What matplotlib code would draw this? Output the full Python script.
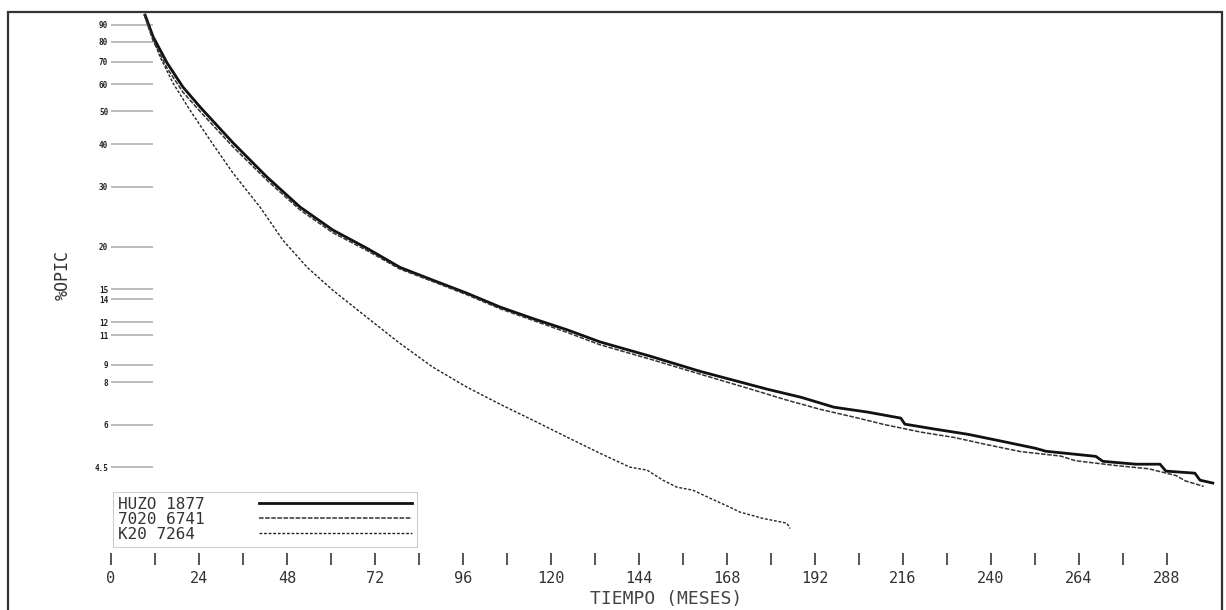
import matplotlib
matplotlib.use("Agg")
import matplotlib.pyplot as plt
from matplotlib.patches import Rectangle

# ---- data (months, % surviving) ----
months_a = [9.3, 11.5, 15.3, 19.6, 24.3, 33.3, 42.5, 51.5, 60.5, 69.8,
            78.8, 87.8, 97.1, 106.1, 115.1, 124.4, 133.4, 147.0, 160.6, 178.9,
            188.2, 197.2, 206.4, 215.4, 216.5, 224.7, 233.7, 243.0, 252.2, 255.0,
            268.6, 270.5, 279.5, 286.1, 287.7, 295.6, 297.0, 300.5]
surv_a = [96.0, 82.8, 69.4, 59.0, 51.5, 40.4, 32.1, 26.2, 22.4, 19.8,
          17.4, 15.95, 14.6, 13.3, 12.3, 11.4, 10.5, 9.54, 8.61, 7.63,
          7.22, 6.75, 6.53, 6.27, 6.02, 5.82, 5.62, 5.36, 5.11, 5.01,
          4.84, 4.68, 4.59, 4.59, 4.38, 4.32, 4.12, 4.04]

months_b = [9.0, 11.5, 15.3, 19.6, 24.3, 33.3, 42.5, 51.5, 60.5, 69.8,
            78.8, 87.8, 97.1, 106.1, 115.1, 124.4, 133.4, 147.0, 160.6, 175.0,
            184.0, 193.5, 203.0, 211.0, 221.0, 230.0, 238.5, 248.0, 259.0, 263.0,
            274.0, 283.0, 290.5, 293.0, 298.0]
surv_b = [96.5, 80.5, 67.0, 57.0, 50.0, 39.3, 31.4, 25.7, 22.0, 19.5,
          17.2, 15.8, 14.45, 13.15, 12.15, 11.2, 10.3, 9.35, 8.45, 7.6,
          7.1, 6.65, 6.3, 6.0, 5.7, 5.5, 5.25, 5.0, 4.85, 4.7,
          4.55, 4.45, 4.25, 4.1, 3.95]

months_c = [9.3, 11.5, 13.4, 16.9, 21.5, 27.0, 33.3, 40.6, 46.9, 53.5,
            60.5, 69.8, 78.8, 87.8, 97.1, 106.1, 115.1, 124.4, 133.4, 141.5,
            146.2, 150.5, 154.3, 158.7, 163.3, 168.8, 171.5, 177.8, 184.3, 185.2]
surv_c = [96.0, 82.2, 72.2, 60.6, 50.5, 41.2, 32.9, 26.2, 20.9, 17.4,
          14.9, 12.4, 10.4, 8.85, 7.73, 6.89, 6.18, 5.51, 4.94, 4.50,
          4.41, 4.12, 3.93, 3.85, 3.65, 3.43, 3.32, 3.18, 3.08, 2.97]

series_labels = ["HUZO 1877", "7020 6741", "K20 7264"]
x_ticks = list(range(0, 289, 24))
x_minor = list(range(12, 300, 24))
y_ticks = [90, 80, 70, 60, 50, 40, 30, 20, 15, 14, 12, 11, 9, 8, 6, 4.5]

plt.rcParams["font.family"] = ["DejaVu Sans Mono", "DejaVu Sans"]

W, H = 1226, 610
fig = plt.figure(figsize=(W / 100, H / 100), dpi=100)
ax = fig.add_axes([111 / W, 45 / H, 1111 / W, 553 / H])

ax.plot(months_a, surv_a, color="#111111", lw=2.0, label=series_labels[0])
ax.plot(months_b, surv_b, color="#333333", lw=1.1, ls=(0, (3, 1)),
        label=series_labels[1])
ax.plot(months_c, surv_c, color="#222222", lw=1.0, ls=(0, (2, 1.3)),
        label=series_labels[2])

ax.set_yscale("log")
ax.set_xlim(0, 303)
ax.set_ylim(2.32, 98.0)
for s in ax.spines.values():
    s.set_visible(False)

ax.set_xticks(x_ticks)
ax.set_xticks(x_minor, minor=True)
ax.tick_params(axis="x", which="both", direction="in", length=9, width=1.4,
               color="#555555", pad=4, labelsize=11, labelcolor="#333333")
ax.set_yticks(y_ticks)
ax.set_yticks([], minor=True)
ax.set_yticklabels(["%g" % v for v in y_ticks])
ax.tick_params(axis="y", which="major", direction="in", length=30, width=1.2,
               color="#b0b0b0", pad=2, labelsize=5.5, labelcolor="#222222")
for t in ax.get_yticklabels():
    t.set_fontweight("bold")

ax.set_xlabel("TIEMPO (MESES)", fontsize=13, color="#444444", labelpad=3)
ax.set_ylabel("%OPIC", fontsize=12, color="#333333")
ax.yaxis.set_label_coords(-0.035, 0.524)

# pad labels to equal width so the monospace text lines up on the left
width = max(len(s) for s in series_labels)
handles, _ = ax.get_legend_handles_labels()
leg = ax.legend(handles, [s.ljust(width) for s in series_labels],
                loc="upper left", bbox_to_anchor=(113 / W, 1 - 492 / H),
                bbox_transform=fig.transFigure, markerfirst=False,
                fontsize=11.5, handlelength=9.6, handletextpad=3.4,
                labelspacing=0.0, borderpad=0.3, borderaxespad=0,
                fancybox=False, frameon=True)
leg.get_frame().set_edgecolor("#c0c0c0")
leg.get_frame().set_linewidth(0.8)
for txt in leg.get_texts():
    txt.set_color("#333333")

# border of the scanned sheet
fig.add_artist(Rectangle((8 / W, -0.02), 1214 / W, 1.02 - 12 / H,
                         transform=fig.transFigure, fill=False,
                         edgecolor="#333333", lw=1.6))

fig.savefig("out.png", dpi=100, facecolor="white")
